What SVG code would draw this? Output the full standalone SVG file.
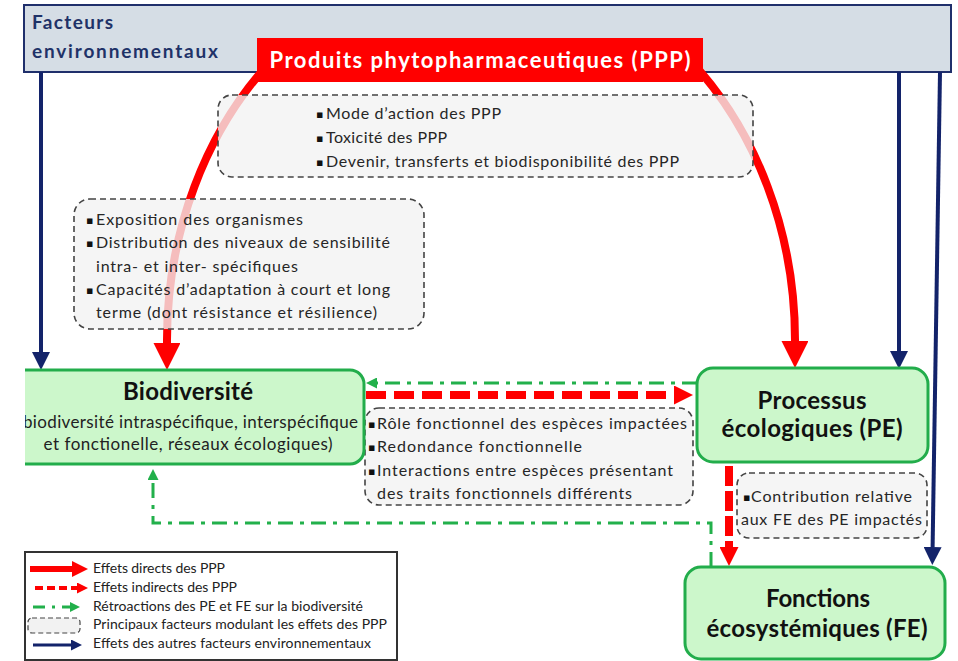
<svg xmlns="http://www.w3.org/2000/svg" width="958" height="661" viewBox="0 0 958 661">
  <style>
    text { font-family: Lato, "Liberation Sans", sans-serif; fill: #262626; }
    .title { font-weight: 700; font-size: 24px; text-anchor: middle; fill: #111; }
    .sub { font-size: 17px; text-anchor: middle; fill: #222; }
    .body { font-size: 16px; }
    .bul { font-family: "DejaVu Sans", sans-serif; font-size: 11px; fill: #111; }
    .leg { font-size: 14px; fill: #222; }
    .node rect { fill: #ccf7cb; stroke: #22ad4b; stroke-width: 3; }
    .fac rect { fill: #f2f2f2; fill-opacity: 0.78; stroke: #444; stroke-width: 1.6; stroke-dasharray: 6 4; }
    .direct { fill: none; stroke: #ff0000; stroke-width: 8; }
    .indirect { fill: none; stroke: #ff0000; stroke-width: 8; }
    .feedback { fill: none; stroke: #22b04b; stroke-width: 3; stroke-dasharray: 15 7 4 7; }
    .env { fill: none; stroke: #13236a; stroke-width: 4; }
  </style>
  <defs>
    <marker id="m-red-big" markerUnits="userSpaceOnUse" markerWidth="27" markerHeight="27" viewBox="0 0 27 27" refX="0" refY="13.5" orient="auto">
      <path d="M0,0 L27,13.5 L0,27 z" fill="#ff0000"/>
    </marker>
    <marker id="m-red" markerUnits="userSpaceOnUse" markerWidth="19" markerHeight="19" viewBox="0 0 19 19" refX="0" refY="9.5" orient="auto">
      <path d="M0,0 L19,9.5 L0,19 z" fill="#ff0000"/>
    </marker>
    <marker id="m-green" markerUnits="userSpaceOnUse" markerWidth="11" markerHeight="11" viewBox="0 0 11 11" refX="0" refY="5.5" orient="auto">
      <path d="M0,0 L11,5.5 L0,11 z" fill="#22b04b"/>
    </marker>
    <marker id="m-navy" markerUnits="userSpaceOnUse" markerWidth="18" markerHeight="18" viewBox="0 0 18 18" refX="0" refY="9" orient="auto">
      <path d="M0,0 L18,9 L0,18 z" fill="#13236a"/>
    </marker>
    <marker id="m-red-s" markerUnits="userSpaceOnUse" markerWidth="16" markerHeight="16" viewBox="0 0 16 16" refX="0" refY="8" orient="auto">
      <path d="M0,0 L16,8 L0,16 z" fill="#ff0000"/>
    </marker>
    <marker id="m-red-xs" markerUnits="userSpaceOnUse" markerWidth="11" markerHeight="11" viewBox="0 0 11 11" refX="0" refY="5.5" orient="auto">
      <path d="M0,0 L11,5.5 L0,11 z" fill="#ff0000"/>
    </marker>
    <marker id="m-green-s" markerUnits="userSpaceOnUse" markerWidth="10" markerHeight="10" viewBox="0 0 10 10" refX="0" refY="5" orient="auto">
      <path d="M0,0 L10,5 L0,10 z" fill="#22b04b"/>
    </marker>
    <marker id="m-navy-s" markerUnits="userSpaceOnUse" markerWidth="11" markerHeight="11" viewBox="0 0 11 11" refX="0" refY="5.5" orient="auto">
      <path d="M0,0 L11,5.5 L0,11 z" fill="#13236a"/>
    </marker>
    <clipPath id="clip-left">
      <rect x="25" y="0" width="933" height="661"/>
    </clipPath>
  </defs>

  <!-- environmental factors banner -->
  <g id="facteurs">
    <rect x="24" y="5" width="927" height="67" fill="#d5dde5" stroke="#1f2f6b" stroke-width="2"/>
    <text x="32" y="29" font-size="19" font-weight="700" style="fill:#1f3268" textLength="81">Facteurs</text>
    <text x="32" y="58" font-size="19" font-weight="700" style="fill:#1f3268" textLength="186">environnementaux</text>
  </g>

  <!-- connectors -->
  <g id="connectors">
    <!-- direct effects of PPP -->
    <path class="direct" d="M272,60 A314,375 0 0 0 167,340 L167,343" marker-end="url(#m-red-big)"/>
    <path class="direct" d="M690,60 A314,375 0 0 1 795,340 L795,341" marker-end="url(#m-red-big)"/>
    <!-- other environmental factors -->
    <line class="env" x1="41" y1="72" x2="41" y2="352" marker-end="url(#m-navy)"/>
    <line class="env" x1="899" y1="72" x2="899" y2="351" marker-end="url(#m-navy)"/>
    <line class="env" x1="940" y1="72" x2="932.6" y2="547" marker-end="url(#m-navy)"/>
    <!-- indirect effects -->
    <line class="indirect" x1="366" y1="395" x2="674" y2="395" stroke-dasharray="20 8" marker-end="url(#m-red)"/>
    <line class="indirect" x1="729" y1="466" x2="729" y2="547" stroke-width="7" stroke-dasharray="20 5" marker-end="url(#m-red)"/>
    <!-- feedbacks -->
    <line class="feedback" x1="697" y1="383" x2="377" y2="383" marker-end="url(#m-green)"/>
    <path class="feedback" d="M711,567 L711,523 L153,523 L153,480" marker-end="url(#m-green)"/>
  </g>

  <!-- PPP label -->
  <g id="ppp">
    <rect x="257" y="38" width="446" height="44" fill="#ff0000"/>
    <text x="480" y="68" font-size="22" font-weight="700" text-anchor="middle" style="fill:#ffffff" textLength="421">Produits phytopharmaceutiques (PPP)</text>
  </g>

  <!-- modulating factors -->
  <g id="facteurs-ppp" class="fac">
    <rect x="218" y="95" width="535" height="82" rx="14"/>
    <text class="bul" x="316" y="118">▪</text>
    <text class="body" x="326" y="119" textLength="175">Mode d’action des PPP</text>
    <text class="bul" x="316" y="142">▪</text>
    <text class="body" x="326" y="143" textLength="121">Toxicité des PPP</text>
    <text class="bul" x="316" y="166">▪</text>
    <text class="body" x="326" y="167" textLength="353">Devenir, transferts et biodisponibilité des PPP</text>
  </g>

  <g id="facteurs-organismes" class="fac">
    <rect x="74" y="199" width="350" height="130" rx="16"/>
    <text class="bul" x="86" y="224">▪</text>
    <text class="body" x="96" y="225" textLength="207">Exposition des organismes</text>
    <text class="bul" x="86" y="247">▪</text>
    <text class="body" x="96" y="248" textLength="294">Distribution des niveaux de sensibilité</text>
    <text class="body" x="96" y="272" textLength="202">intra- et inter- spécifiques</text>
    <text class="bul" x="86" y="294">▪</text>
    <text class="body" x="96" y="295" textLength="294">Capacités d’adaptation à court et long</text>
    <text class="body" x="96" y="318" textLength="281">terme (dont résistance et résilience)</text>
  </g>

  <g id="facteurs-especes" class="fac">
    <rect x="365" y="408" width="328" height="97" rx="14"/>
    <text class="bul" x="368" y="428">▪</text>
    <text class="body" x="377" y="429" textLength="310">Rôle fonctionnel des espèces impactées</text>
    <text class="bul" x="368" y="451">▪</text>
    <text class="body" x="377" y="452" textLength="205">Redondance fonctionnelle</text>
    <text class="bul" x="368" y="475">▪</text>
    <text class="body" x="377" y="476" textLength="296">Interactions entre espèces présentant</text>
    <text class="body" x="377" y="499" textLength="255">des traits fonctionnels différents</text>
  </g>

  <g id="facteurs-processus" class="fac">
    <rect x="737" y="473" width="190" height="65" rx="12"/>
    <text class="bul" x="743" y="501">▪</text>
    <text class="body" x="751" y="502" textLength="161">Contribution relative</text>
    <text class="body" x="741" y="525" textLength="181">aux FE des PE impactés</text>
  </g>

  <!-- nodes -->
  <g id="biodiversite" class="node" clip-path="url(#clip-left)">
    <rect x="8" y="370" width="356" height="94" rx="14"/>
    <text class="title" x="188" y="400" textLength="130">Biodiversité</text>
    <text class="sub" x="188" y="428" textLength="340">(biodiversité intraspécifique, interspécifique</text>
    <text class="sub" x="188" y="450" textLength="289">et fonctionelle, réseaux écologiques)</text>
  </g>

  <g id="processus" class="node">
    <rect x="697" y="368" width="231" height="94" rx="16"/>
    <text class="title" x="812" y="409" textLength="109">Processus</text>
    <text class="title" x="812" y="437" textLength="181">écologiques (PE)</text>
  </g>

  <g id="fonctions" class="node">
    <rect x="685" y="567" width="260" height="92" rx="16"/>
    <text class="title" x="818" y="607" textLength="104">Fonctions</text>
    <text class="title" x="817" y="637" textLength="221">écosystémiques (FE)</text>
  </g>

  <!-- legend -->
  <g id="legende">
    <rect x="25" y="552" width="372" height="108" fill="#ffffff" stroke="#333" stroke-width="2"/>
    <line x1="30" y1="569" x2="72" y2="569" stroke="#ff0000" stroke-width="6" marker-end="url(#m-red-s)"/>
    <text class="leg" x="93" y="573" textLength="132">Effets directs des PPP</text>
    <line x1="35" y1="588" x2="77" y2="588" stroke="#ff0000" stroke-width="4" stroke-dasharray="8 4" marker-end="url(#m-red-xs)"/>
    <text class="leg" x="93" y="592" textLength="144">Effets indirects des PPP</text>
    <line x1="33" y1="607" x2="70" y2="607" stroke="#22b04b" stroke-width="3" stroke-dasharray="12 7 3 7" marker-end="url(#m-green-s)"/>
    <text class="leg" x="93" y="611" textLength="270">Rétroactions des PE et FE sur la biodiversité</text>
    <rect x="28" y="618" width="52" height="15" rx="4" fill="#f2f2f2" stroke="#444" stroke-width="1.2" stroke-dasharray="5 3"/>
    <text class="leg" x="93" y="629" textLength="294">Principaux facteurs modulant les effets des PPP</text>
    <line x1="33" y1="645" x2="71" y2="645" stroke="#13236a" stroke-width="3" marker-end="url(#m-navy-s)"/>
    <text class="leg" x="93" y="648" textLength="278">Effets des autres facteurs environnementaux</text>
  </g>
</svg>
